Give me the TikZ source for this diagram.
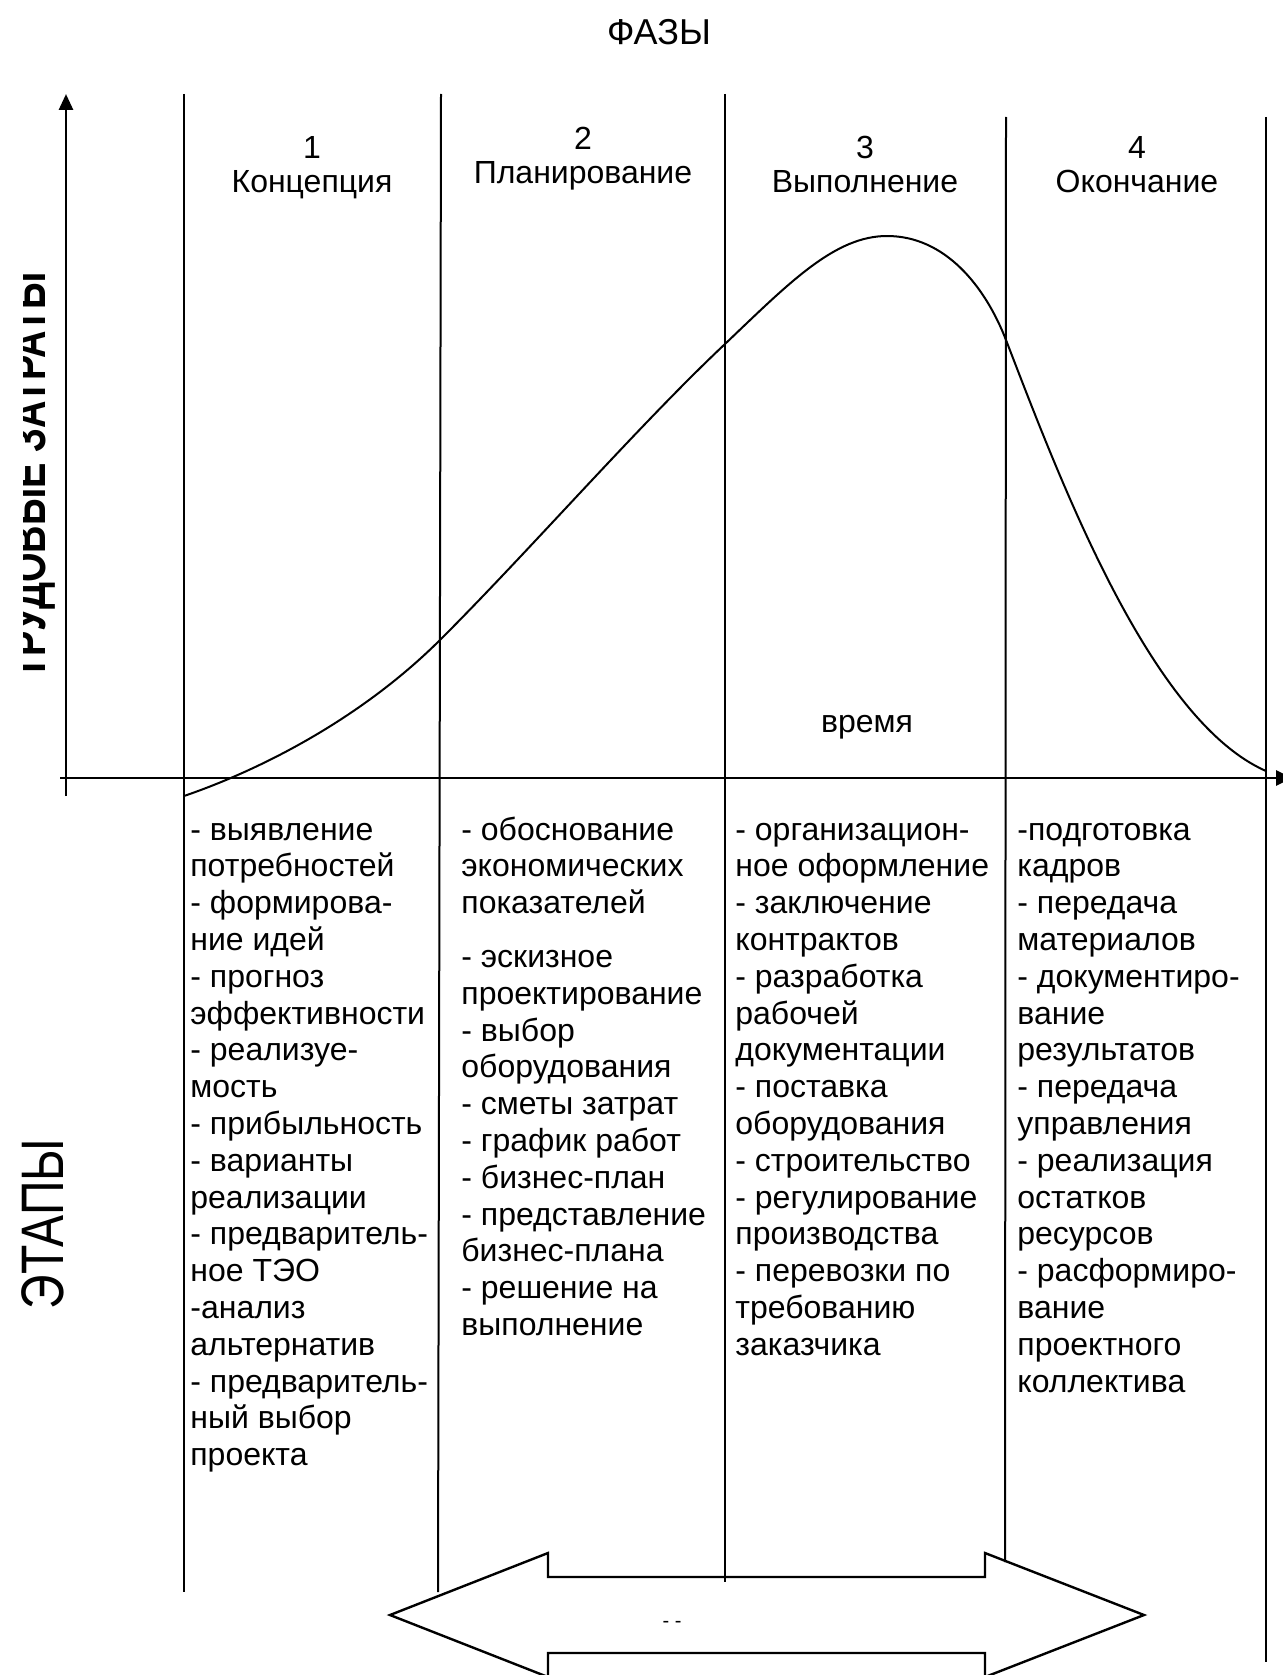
\documentclass[tikz,border=0pt]{standalone}
\usepackage{fontspec}
\usepackage{graphicx}
\setmainfont{Liberation Sans}
\usetikzlibrary{arrows.meta}
\begin{document}
\begin{tikzpicture}[x=0.5pt,y=-0.5pt,
  axis/.style={line width=1.4pt},
  divider/.style={line width=1pt},
  curveline/.style={line width=1pt},
  outline/.style={line width=1.2pt, line join=miter},
  body/.style={inner sep=0pt, anchor=north west, align=left,
    font=\fontsize{16}{18.4}\selectfont},
  head/.style={inner sep=0pt, anchor=north, align=center,
    font=\fontsize{16}{17}\selectfont},
  label/.style={inner sep=0pt, anchor=base, font=\fontsize{16}{18.4}\selectfont}]
\useasboundingbox (0,0) rectangle (1283,1675);

% axes
\coordinate (o) at (66,778);
\coordinate (ybot) at (66,796);
\coordinate (ytop) at (66,94);
\coordinate (xleft) at (60,778);
\coordinate (xright) at (1292,778);
\draw[axis,-{Triangle[length=8pt,width=7pt]}] (ybot) -- (ytop);
\draw[axis,-{Triangle[length=8pt,width=7.5pt]}] (xleft) -- (xright);

% phase dividers
\draw[divider] (184,94) -- (184,1592);
\draw[divider] (441,94) -- (438,1592);
\draw[divider] (725,94) -- (725,1582);
\draw[divider] (1006,117) -- (1005,1562);
\draw[divider] (1266,117) -- (1266,1662);

% labour cost curve
\coordinate (c0) at (184,796);
\coordinate (c1) at (441,639);
\coordinate (c2) at (725,344);
\coordinate (peak) at (887,236);
\coordinate (c4) at (1006,340);
\coordinate (c5) at (1266,771);
\draw[curveline] (c0) .. controls (260,770) and (361,719) .. (c1)
  .. controls (530,550) and (640,424) .. (c2)
  .. controls (790,282) and (835,236) .. (peak)
  .. controls (945,236) and (985,286) .. (c4)
  .. controls (1060,480) and (1150,720) .. (c5);

% titles
\node[label, font=\fontsize{18}{20}\selectfont] (phases) at (659,45) {ФАЗЫ};
\node[label] (time) at (867,732) {время};

% axis caption, partly cut off by its frame
\begin{scope}
  \clip (23,250) rectangle (62,672);
  \node[inner sep=0pt, anchor=base west, rotate=90,
    font=\fontsize{19}{22}\selectfont\bfseries] (cost) at (46,680)
    {\scalebox{1}[1.3]{ТРУДОВЫЕ ЗАТРАТЫ}};
\end{scope}

\node[inner sep=0pt, anchor=center, rotate=90,
  font=\fontsize{24}{28}\selectfont] (stages) at (43,1224) {\scalebox{1}[1.25]{ЭТАПЫ}};

% phase headings
\node[head] (h1) at (312,134) {\strut 1\\Концепция};
\node[head] (h2) at (583,125.5) {\strut 2\\Планирование};
\node[head] (h3) at (865,134) {\strut 3\\Выполнение};
\node[head] (h4) at (1137,134) {\strut 4\\Окончание};

% stage lists
\node[body] (s1) at (190,814) {\strut - выявление\\потребностей\\- формирова-\\ние идей\\- прогноз\\эффективности\\- реализуе-\\мость\\- прибыльность\\- варианты\\реализации\\- предваритель-\\ное ТЭО\\-анализ\\альтернатив\\- предваритель-\\ный выбор\\проекта};
\node[body] (s2) at (461,814) {\strut - обоснование\\экономических\\показателей\\[8.5pt]- эскизное\\проектирование\\- выбор\\оборудования\\- сметы затрат\\- график работ\\- бизнес-план\\- представление\\бизнес-плана\\- решение на\\выполнение};
\node[body] (s3) at (735,814) {\strut - организацион-\\ное оформление\\- заключение\\контрактов\\- разработка\\рабочей\\документации\\- поставка\\оборудования\\- строительство\\- регулирование\\производства\\- перевозки по\\требованию\\заказчика};
\node[body] (s4) at (1017,814) {\strut -подготовка\\кадров\\- передача\\материалов\\- документиро-\\вание\\результатов\\- передача\\управления\\- реализация\\остатков\\ресурсов\\- расформиро-\\вание\\проектного\\коллектива};

% double-headed block arrow
\draw[outline] (390,1615) -- (548,1553) -- (548,1577) -- (985,1577) -- (985,1553)
  -- (1144,1615) -- (985,1677) -- (985,1653) -- (548,1653) -- (548,1677) -- cycle;
\node[inner sep=0pt, font=\fontsize{10}{12}\selectfont] (dash) at (672,1624) {- -};
\end{tikzpicture}
\end{document}
